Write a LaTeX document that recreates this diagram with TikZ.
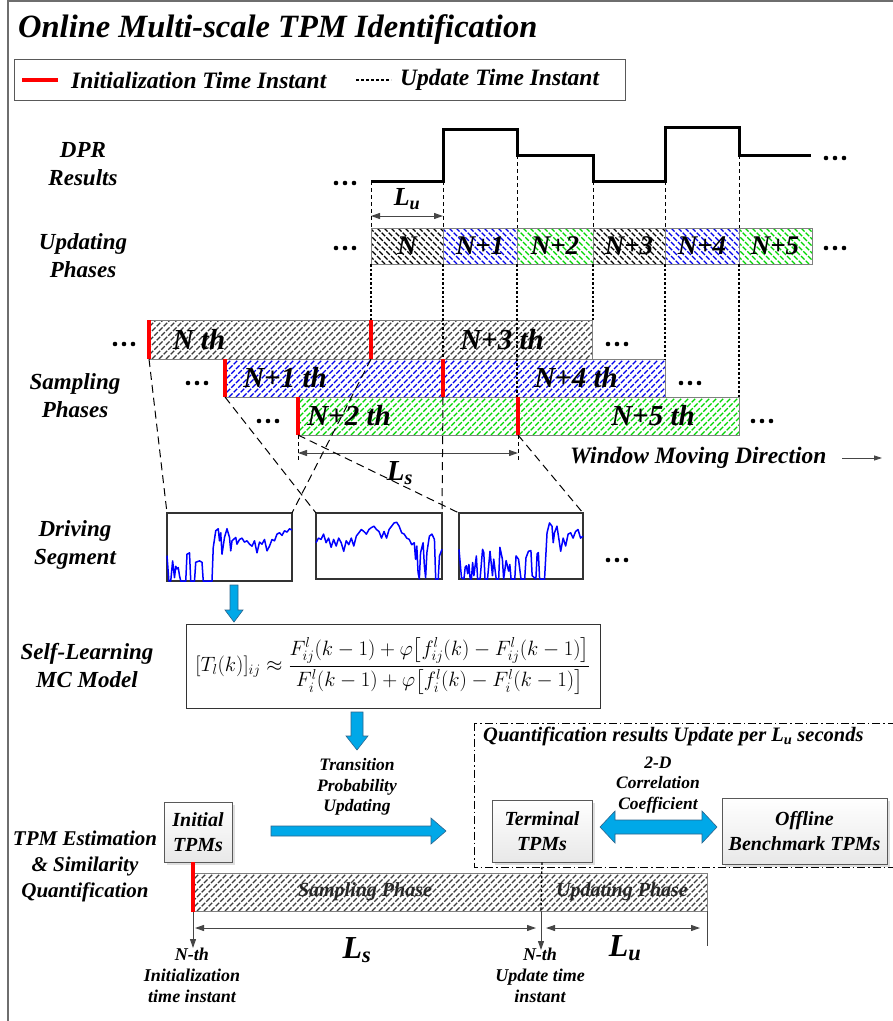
\documentclass[tikz,border=0pt]{standalone}
\usepackage{fontspec}
\setmainfont{Liberation Serif}
\usepackage{amsmath}
\usetikzlibrary{arrows.meta,shadows}

\definecolor{hblue}{RGB}{0,0,235}
\definecolor{hgreen}{RGB}{0,215,0}
\definecolor{hgray}{RGB}{60,60,60}
\definecolor{flowblue}{RGB}{0,168,232}
\definecolor{flowedge}{RGB}{45,100,140}
\definecolor{framegray}{RGB}{110,110,110}

\newcommand\fsz[2]{\fontsize{#1}{#2}\selectfont\bfseries\itshape}

% dashed diagonal hatching clipped to a rectangle: x1 y1(top) x2 y2(bottom) colour
\newcommand\hatchNE[5]{%
  \begin{scope}
    \clip (#1,#2) rectangle (#3,#4);
    \pgfmathsetmacro\hh{#4-#2}
    \pgfmathtruncatemacro\nn{(#3-#1+\hh)/7+1}
    \foreach \k in {0,...,\nn}{
      \pgfmathsetmacro\s{#1-\hh+\k*7}
      \draw[hatchline,#5] (\s,#4) -- ++(\hh,-\hh);
    }
  \end{scope}
  \draw[boxedge] (#1,#2) rectangle (#3,#4);}
\newcommand\hatchNW[5]{%
  \begin{scope}
    \clip (#1,#2) rectangle (#3,#4);
    \pgfmathsetmacro\hh{#4-#2}
    \pgfmathtruncatemacro\nn{(#3-#1+\hh)/7+1}
    \foreach \k in {0,...,\nn}{
      \pgfmathsetmacro\s{#1-\hh+\k*7}
      \draw[hatchline,#5] (\s,#2) -- ++(\hh,\hh);
    }
  \end{scope}
  \draw[boxedge] (#1,#2) rectangle (#3,#4);}

\tikzset{
  hatchline/.style={line width=1.2pt, dash pattern=on 5pt off 1.6pt},
  boxedge/.style={draw=gray, line width=0.8pt},
  lbl/.style={inner sep=0pt, align=center, font=\fsz{23}{28}},
  phaselbl/.style={inner sep=0pt, font=\fsz{27}{30}},
  winlbl/.style={inner sep=0pt, font=\fsz{29}{32}},
  small/.style={inner sep=0pt, align=center, font=\fsz{17.5}{20.5}},
  thindash/.style={black, line width=0.6pt, dash pattern=on 4pt off 3pt},
  dotline/.style={black, line width=1.3pt, dash pattern=on 2.5pt off 2pt},
  zoomline/.style={black, line width=1pt, dash pattern=on 8pt off 5pt},
  redbar/.style={red, line width=4pt},
  dim/.style={gray!55!black, line width=1pt, {Triangle[length=9pt,width=6pt]}-{Triangle[length=9pt,width=6pt]}},
  dimto/.style={gray!55!black, line width=1pt, -{Triangle[length=9pt,width=6pt]}},
  seg/.style={draw=gray!40!black, line width=1.1pt},
  sig/.style={blue, line width=1.5pt, line join=round},
  flow/.style={fill=flowblue, draw=flowedge, line width=0.6pt},
  tpmbox/.style={draw=gray!70!black, line width=0.8pt, top color=white, bottom color=gray!18,
    drop shadow={opacity=0.25, shadow xshift=3pt, shadow yshift=-3pt},
    align=center, inner sep=0pt, font=\fsz{20}{25}},
  threedots/.pic={\fill (-9,0) circle (2.3pt) (0,0) circle (2.3pt) (9,0) circle (2.3pt);}
}

\begin{document}
\begin{tikzpicture}[x=1pt,y=-1pt]
\useasboundingbox (0,0) rectangle (893,1021);
\clip (0,0) rectangle (893,1021);
\fill[white] (0,0) rectangle (893,1021);

% frame
\draw[framegray, line width=1.4pt] (8,1021) -- (8,1) -- (893,1);

% title and legend
\node[anchor=west, inner sep=0pt, font=\fsz{32.5}{36}] (title) at (18,30) {Online Multi-scale TPM Identification};
\draw[gray!70!black, line width=0.8pt] (14,59) rectangle (625,100);
\draw[redbar] (22,80) -- (58,80);
\node[anchor=west, inner sep=0pt, font=\fsz{23.5}{26}] (leginit) at (71,80) {Initialization Time Instant};
\draw[black, line width=1.6pt, dash pattern=on 3pt off 2pt] (356,80) -- (391,80);
\node[anchor=west, inner sep=0pt, font=\fsz{23.5}{26}] (legupd) at (400,80) {Update Time Instant};

% row captions
\node[lbl] (dpr) at (83,164) {DPR\\Results};
\node[lbl] (upd) at (83,256) {Updating\\Phases};
\node[lbl] (samp) at (75,396) {Sampling\\Phases};
\node[lbl] (drv) at (75,545) {Driving\\Segment};
\node[lbl] (slm) at (87,666) {Self-Learning\\MC Model};
\node[lbl, font=\fsz{21}{26}] (tpmest) at (85,866) {TPM Estimation\\\& Similarity\\Quantification};

% DPR result curve
\draw[black, line width=3pt] (371,181) -| (443,129) -| (517,155) -| (593,181) -| (665,127) -| (739,155) -- (811,155);
\pic at (345,183) {threedots};
\pic at (835,158) {threedots};
\draw[dim] (371,216) -- (443,216);
\node[inner sep=0pt, font=\fsz{26}{28}] (lu) at (407,199) {L\textsubscript{u}};

% thin guides from the curve to the updating phases
\draw[thindash] (371,181) -- (371,228);
\draw[thindash] (443,181) -- (443,228);
\draw[thindash] (517,155) -- (517,228);
\draw[thindash] (593,181) -- (593,228);
\draw[thindash] (665,181) -- (665,228);
\draw[thindash] (739,155) -- (739,228);

% updating phases
\hatchNW{371}{228}{443}{264}{black}
\hatchNW{443}{228}{517}{264}{hblue}
\hatchNW{517}{228}{593}{264}{hgreen}
\hatchNW{593}{228}{665}{264}{black}
\hatchNW{665}{228}{739}{264}{hblue}
\hatchNW{739}{228}{812}{264}{hgreen}
\node[phaselbl] (u0) at (407,246) {N};
\node[phaselbl] (u1) at (480,246) {N+1};
\node[phaselbl] (u2) at (555,246) {N+2};
\node[phaselbl] (u3) at (629,246) {N+3};
\node[phaselbl] (u4) at (702,246) {N+4};
\node[phaselbl] (u5) at (775,246) {N+5};
\pic at (345,248) {threedots};
\pic at (835,248) {threedots};

% sampling phases
\hatchNE{149}{320}{592}{359}{hgray}
\hatchNE{225}{359}{665}{397}{hblue}
\hatchNE{298}{397}{739}{435}{hgreen}

% update instants carried down
\draw[dotline] (371,264) -- (371,320);
\draw[dotline] (443,264) -- (443,359);
\draw[dotline] (517,264) -- (517,397);
\draw[dotline] (593,264) -- (593,320);
\draw[dotline] (665,264) -- (665,359);
\draw[dotline] (739,264) -- (739,397);

% initialization instants
\draw[redbar] (149,320) -- (149,359);
\draw[redbar] (371,320) -- (371,359);
\draw[redbar] (225,359) -- (225,397);
\draw[redbar] (443,359) -- (443,397);
\draw[redbar] (298,397) -- (298,435);
\draw[redbar] (518,397) -- (518,435);

\node[winlbl] (w0) at (199,340) {N th};
\node[winlbl] (w3) at (502,340) {N+3 th};
\node[winlbl] (w1) at (285,378) {N+1 th};
\node[winlbl] (w4) at (576,378) {N+4 th};
\node[winlbl] (w2) at (349,416) {N+2 th};
\node[winlbl] (w5) at (653,416) {N+5 th};
\pic at (124,344) {threedots};
\pic at (617,344) {threedots};
\pic at (197,383) {threedots};
\pic at (690,383) {threedots};
\pic at (268,421) {threedots};
\pic at (762,421) {threedots};

% sampling length
\draw[thindash] (298,435) -- (298,460);
\draw[thindash] (518,435) -- (518,460);
\draw[dim] (298,453) -- (518,453);
\node[inner sep=0pt, font=\fsz{29}{30}] (ls) at (400,473) {L\textsubscript{s}};

\node[anchor=west, inner sep=0pt, font=\fsz{23.5}{26}] (wmd) at (570,458) {Window Moving Direction};
\coordinate (wmdend) at (882,458);
\draw[gray!55!black, line width=0.8pt, -{Triangle[length=8pt,width=5pt]}] (842,458) -- (wmdend);

% driving segments
\draw[seg] (167,513) rectangle (292,581);
\draw[seg] (316,513) rectangle (442,579);
\draw[seg] (459,513) rectangle (583,579);
\begin{scope}[shift={(167,581)}, x=125pt, y=67pt]
\draw[sig] plot coordinates {(0,0.38)(0.015,0)(0.03,0)(0.045,0.3)(0.06,0.05)(0.07,0.22)(0.08,0.18)(0.09,0.2)(0.1,0.08)(0.11,0)(0.15,0)(0.16,0.4)(0.18,0.42)(0.19,0)(0.22,0)(0.23,0.28)(0.26,0.3)(0.28,0.28)(0.29,0)(0.36,0)(0.37,0.5)(0.39,0.75)(0.41,0.78)(0.42,0.6)(0.43,0.72)(0.44,0.4)(0.46,0.65)(0.48,0.78)(0.5,0.65)(0.51,0.45)(0.52,0.6)(0.55,0.65)(0.56,0.55)(0.58,0.62)(0.6,0.64)(0.62,0.58)(0.64,0.6)(0.66,0.55)(0.68,0.52)(0.7,0.6)(0.72,0.42)(0.74,0.58)(0.76,0.55)(0.78,0.62)(0.8,0.45)(0.82,0.52)(0.84,0.62)(0.86,0.6)(0.88,0.7)(0.9,0.72)(0.92,0.68)(0.94,0.75)(0.96,0.73)(0.98,0.78)(1,0.76)};
\end{scope}
\begin{scope}[shift={(316,579)}, x=126pt, y=66pt]
\draw[sig] plot coordinates {(0,0.55)(0.02,0.62)(0.04,0.6)(0.06,0.68)(0.08,0.55)(0.1,0.62)(0.12,0.48)(0.14,0.6)(0.16,0.5)(0.18,0.62)(0.2,0.55)(0.22,0.42)(0.24,0.58)(0.26,0.52)(0.28,0.62)(0.3,0.5)(0.32,0.65)(0.34,0.7)(0.36,0.75)(0.38,0.72)(0.4,0.68)(0.42,0.75)(0.44,0.78)(0.46,0.8)(0.48,0.75)(0.5,0.72)(0.52,0.62)(0.54,0.72)(0.56,0.62)(0.58,0.75)(0.6,0.8)(0.62,0.85)(0.64,0.86)(0.66,0.8)(0.68,0.7)(0.7,0.68)(0.72,0.62)(0.74,0.6)(0.76,0.52)(0.78,0.55)(0.79,0.3)(0.8,0.5)(0.81,0.1)(0.82,0)(0.83,0.4)(0.85,0.55)(0.86,0.2)(0.87,0.02)(0.88,0.4)(0.9,0.65)(0.92,0.68)(0.94,0.6)(0.95,0)(0.97,0)(0.98,0.35)(1,0.45)};
\end{scope}
\begin{scope}[shift={(459,579)}, x=124pt, y=66pt]
\draw[sig] plot coordinates {(0,0.45)(0.02,0.02)(0.04,0)(0.05,0.18)(0.06,0.2)(0.07,0.08)(0.08,0.22)(0.09,0)(0.1,0)(0.11,0.25)(0.12,0.05)(0.14,0.35)(0.15,0)(0.17,0)(0.19,0.45)(0.2,0.4)(0.21,0)(0.23,0)(0.25,0.42)(0.27,0.05)(0.28,0.3)(0.3,0)(0.32,0)(0.33,0.48)(0.35,0.3)(0.36,0)(0.38,0.28)(0.4,0.12)(0.41,0.22)(0.42,0)(0.45,0)(0.46,0.35)(0.48,0.3)(0.5,0)(0.53,0)(0.54,0.32)(0.56,0.42)(0.58,0.43)(0.59,0.05)(0.62,0)(0.63,0.38)(0.64,0.4)(0.65,0)(0.69,0)(0.71,0.7)(0.73,0.85)(0.75,0.8)(0.76,0.55)(0.77,0.7)(0.79,0.8)(0.81,0.55)(0.82,0.42)(0.84,0.62)(0.86,0.5)(0.88,0.68)(0.9,0.7)(0.92,0.62)(0.94,0.72)(0.96,0.75)(0.98,0.62)(1,0.65)};
\end{scope}
\pic at (617,560) {threedots};

% projection of each window onto its driving segment
\draw[zoomline] (149,359) -- (167,513);
\draw[zoomline] (371,359) -- (292,513);
\draw[zoomline] (225,397) -- (316,513);
\draw[zoomline] (443,397) -- (442,513);
\draw[zoomline] (298,435) -- (459,513);
\draw[zoomline] (518,435) -- (583,513);

% self-learning model
\fill[flow] (230,585) -- (238,585) -- (238,610) -- (243,610) -- (234,622) -- (225,610) -- (230,610) -- cycle;
\node[draw=black!80, line width=0.8pt, minimum width=414pt, minimum height=84pt, inner sep=0pt,
      font=\normalfont\fontsize{20}{24}\selectfont] (mc) at (393,666)
  {$[T_l(k)]_{ij}\approx\dfrac{F^{l}_{ij}(k-1)+\varphi\bigl[f^{l}_{ij}(k)-F^{l}_{ij}(k-1)\bigr]}{F^{l}_{i}(k-1)+\varphi\bigl[f^{l}_{i}(k)-F^{l}_{i}(k-1)\bigr]}$};
\fill[flow] (351,712) -- (363,712) -- (363,736) -- (368,736) -- (357,750) -- (346,736) -- (351,736) -- cycle;

\node[small] (tpu) at (357,787) {Transition\\Probability\\Updating};

% TPM estimation and similarity quantification
\node[tpmbox, minimum width=68pt, minimum height=60pt] (init) at (198,832) {Initial\\TPMs};
\fill[flow] (271,826) -- (431,826) -- (431,818) -- (446,831) -- (431,844) -- (431,836) -- (271,836) -- cycle;

\draw[black, line width=1pt, dash pattern=on 8pt off 3pt on 1.5pt off 3pt] (474,723) rectangle (905,867);
\node[anchor=west, inner sep=0pt, font=\fsz{20.5}{24}] (qtitle) at (483,736) {Quantification results Update per L\textsubscript{u} seconds};
\node[tpmbox, minimum width=100pt, minimum height=62pt] (term) at (542,831) {Terminal\\TPMs};
\node[small] (corr) at (658,785) {2-D\\Correlation\\Coefficient};
\fill[flow] (600,827) -- (615,811) -- (615,820) -- (702,820) -- (702,811) -- (717,827) -- (702,843) -- (702,834) -- (615,834) -- (615,843) -- cycle;
\node[tpmbox, minimum width=165pt, minimum height=66pt] (offl) at (804.5,831) {Offline\\Benchmark TPMs};

% sampling / updating time line
\hatchNE{193}{873}{707}{911}{hgray}
\node[inner sep=0pt, font=\fsz{20}{24}, text=black!85] (sph) at (365,892) {Sampling Phase};
\node[inner sep=0pt, font=\fsz{20}{24}, text=black!85] (uph) at (622,892) {Updating Phase};
\draw[dotline] (term.south) -- (541,911);
\coordinate (initbar) at (193,862);
\draw[redbar] (initbar) -- (193,912);

\coordinate (initpt) at (193,948);
\coordinate (updpt) at (541,950);
\draw[dimto] (193,912) -- (initpt);
\draw[dimto] (541,911) -- (updpt);
\draw[gray!55!black, line width=1pt] (707,911) -- (707,946);
\draw[dim] (195,928) -- (536,928);
\draw[dim] (546,928) -- (700,928);
\node[inner sep=0pt, font=\fsz{32}{34}] (ls2) at (357,950) {L\textsubscript{s}};
\node[inner sep=0pt, font=\fsz{32}{34}] (lu2) at (625,948) {L\textsubscript{u}};

\node[small, anchor=north, font=\fsz{18}{21}] (initlbl) at (192,948) {N-th\\Initialization\\time instant};
\node[small, anchor=north, font=\fsz{18}{21}] (updlbl) at (540,948) {N-th\\Update time\\instant};
\end{tikzpicture}
\end{document}
